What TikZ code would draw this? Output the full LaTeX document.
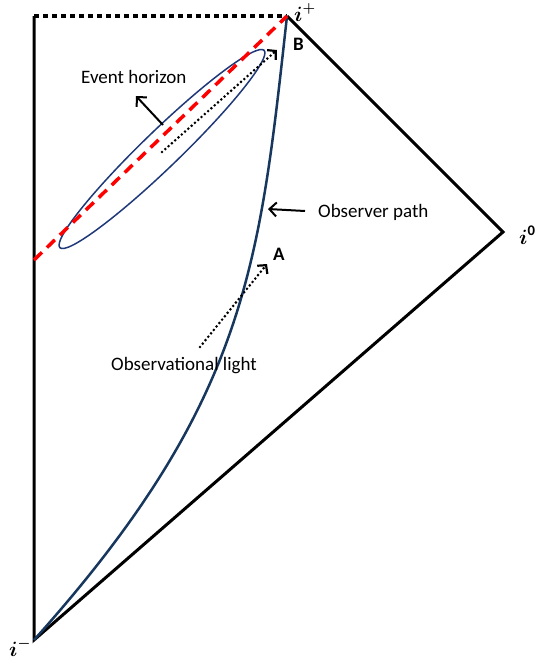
\documentclass[tikz,border=0pt]{standalone}
\usepackage{fontspec}
\setmainfont{Carlito}
\usepackage{amsmath}
\usetikzlibrary{arrows.meta,shapes.geometric}
\definecolor{navy}{RGB}{23,55,94}
\definecolor{ellblue}{RGB}{31,56,120}
\begin{document}
\begin{tikzpicture}[x=1pt,y=-1pt,
  frame/.style={line width=3pt,black},
  topdots/.style={line width=4.5pt,black,dash pattern=on 4.5pt off 4.5pt},
  horizon/.style={line width=3.5pt,red,dash pattern=on 11pt off 7pt},
  worldline/.style={line width=2.5pt,navy},
  horizonring/.style={ellipse,draw=ellblue,line width=1.5pt,inner sep=0pt},
  lightarrow/.style={line width=2.9pt,black,line cap=round,dash pattern=on 0pt off 4.4pt,
     -{Straight Barb[length=6pt,width=13pt,line width=2.2pt]}},
  pointer/.style={line width=2pt,black,-{Straight Barb[length=7pt,width=14pt]}},
  lbl/.style={inner sep=0pt,font=\fontsize{19}{22}\selectfont},
  blbl/.style={inner sep=0pt,font=\fontsize{19}{22}\selectfont\bfseries},
  mlbl/.style={inner sep=0pt,font=\fontsize{21}{22}\selectfont}]
\useasboundingbox (0,0) rectangle (536,662);
\coordinate (im) at (34,640);
\coordinate (ip) at (287,16);
\coordinate (io) at (503,232);
\coordinate (tl) at (34,16);
\coordinate (rl) at (34,260);
% frame
\draw[frame] (tl) -- (im) -- (io) -- (ip);
\draw[topdots] (tl) -- (ip);
% observer world line
\draw[worldline] (im) .. controls (248,401) and (259.5,264.5) .. (ip);
% ellipse
\node[horizonring,minimum width=284pt,minimum height=37pt,rotate=44] (eh) at (162,149) {};
% event horizon line
\draw[horizon] (rl) -- (ip);
% light arrows
\coordinate (l1s) at (162,152);
\coordinate (l1e) at (277,50);
\draw[lightarrow] (l1s) -- (l1e);
\coordinate (l2s) at (200,347);
\coordinate (l2e) at (267,264);
\draw[lightarrow] (l2s) -- (l2e);
% pointers
\coordinate (p1s) at (163,125);
\coordinate (p1e) at (136,96);
\draw[pointer] (p1s) -- (p1e);
\coordinate (p2s) at (305,211);
\coordinate (p2e) at (268,209);
\draw[pointer] (p2s) -- (p2e);
% labels
\node[lbl,anchor=base west] (teh) at (81,83) {Event horizon};
\node[lbl,anchor=base west] (tob) at (318,217) {Observer path};
\node[lbl,anchor=base west] (tol) at (111,370) {Observational light};
\node[blbl,anchor=base west] (ta) at (273,260) {A};
\node[blbl,anchor=base west] (tb) at (293,50) {B};
\node[mlbl,anchor=base west] (tip) at (294,21) {$\boldsymbol{i}^{\boldsymbol{+}}$};
\node[mlbl,anchor=base west] (tio) at (519,244) {$\boldsymbol{i}^{\mathbf{0}}$};
\node[mlbl,anchor=base west] (tim) at (9,656) {$\boldsymbol{i}^{\boldsymbol{-}}$};
\end{tikzpicture}
\end{document}
